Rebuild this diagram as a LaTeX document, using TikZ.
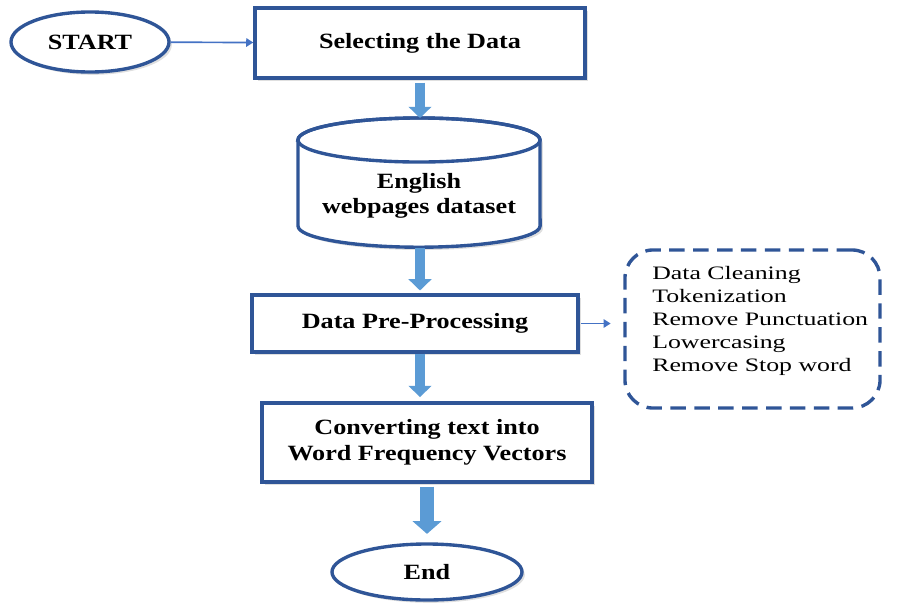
\documentclass[tikz,border=0pt]{standalone}
\usepackage{fontspec}
\setmainfont{Liberation Serif}
\newfontfamily\boxfont{Liberation Serif}[FakeStretch=1.2]
\newfontfamily\listfont{Liberation Serif}[FakeStretch=1.36]
\usetikzlibrary{shapes.geometric, arrows.meta, positioning, shadows}
\definecolor{boxblue}{HTML}{2F5597}
\definecolor{arrowblue}{HTML}{5B9BD5}
\definecolor{lineblue}{HTML}{4472C4}

\begin{document}
\begin{tikzpicture}[x=0.025cm, y=0.025cm,
  box/.style={draw=boxblue, line width=2.4pt, fill=white, align=center,
    font=\boxfont\bfseries\fontsize{15.5}{18.2}\selectfont,
    drop shadow={opacity=0.25, shadow xshift=2pt, shadow yshift=-2pt}},
  terminal/.style={box, ellipse},
  fatarrow/.style={arrowblue, line width=7pt, -{Triangle[width=16pt,length=8pt]}},
  thinarrow/.style={lineblue, line width=1.2pt, -{Triangle[width=6pt,length=5pt]}}]
\useasboundingbox (0,0) rectangle (908,-606);

% Start and data selection
\node[terminal, minimum width=3.95cm, minimum height=1.5cm] (start) at (90,-42) {START};
\node[box, minimum width=8.25cm, minimum height=1.75cm] (sel) at (420,-43) {Selecting the Data};

% Dataset cylinder
\draw[boxblue, line width=2.4pt, fill=white,
  drop shadow={opacity=0.25, shadow xshift=2pt, shadow yshift=-2pt}]
  (298,-140) -- (298,-226) arc[start angle=180, end angle=360, x radius=3.025cm, y radius=0.53cm]
  -- (540,-140) arc[start angle=0, end angle=180, x radius=3.025cm, y radius=0.55cm] -- cycle;
\draw[boxblue, line width=2.4pt] (419,-140) ellipse[x radius=3.025cm, y radius=0.55cm];
\node[align=center, font=\boxfont\bfseries\fontsize{15.5}{17.8}\selectfont] (db) at (419,-196) {English\\webpages dataset};
\coordinate (dbtop) at (420,-118);
\coordinate (dbbot) at (420,-248);

% Pre-processing and its steps
\node[box, minimum width=8.15cm, minimum height=1.425cm] (pre) at (415,-323.5) {Data Pre-Processing};
\node[draw=boxblue, line width=2.4pt, dash pattern=on 11pt off 6pt, rounded corners=0.7cm,
  minimum width=6.375cm, minimum height=3.95cm] (steps) at (752.5,-329) {};
\node[anchor=north west, align=left, inner sep=0pt,
  font=\listfont\fontsize{13.5}{16.4}\selectfont] (steplist) at (652,-266)
  {Data Cleaning\\Tokenization\\Remove Punctuation\\Lowercasing\\Remove Stop word};

% Conversion and end
\node[box, minimum width=8.25cm, minimum height=1.975cm] (conv) at (427,-442.5) {Converting text into\\Word Frequency Vectors};
\node[terminal, minimum width=4.75cm, minimum height=1.4cm] (end) at (427,-572) {End};

% Connectors
\draw[thinarrow] (start) -- (sel);
\draw[fatarrow, shorten <=2pt] (sel.south -| dbtop) -- (dbtop);
\draw[fatarrow, shorten >=2pt] (dbbot) -- (dbbot |- pre.north);
\draw[fatarrow, shorten >=3pt] (pre.south -| dbbot) -- (conv.north -| dbbot);
\draw[thinarrow, shorten <=1pt, shorten >=9pt] (pre.east) -- (pre.east -| steps.west);
\draw[arrowblue, line width=10pt, -{Triangle[width=20pt,length=9pt]}, shorten <=2pt, shorten >=6pt] (conv) -- (end);
\end{tikzpicture}
\end{document}
